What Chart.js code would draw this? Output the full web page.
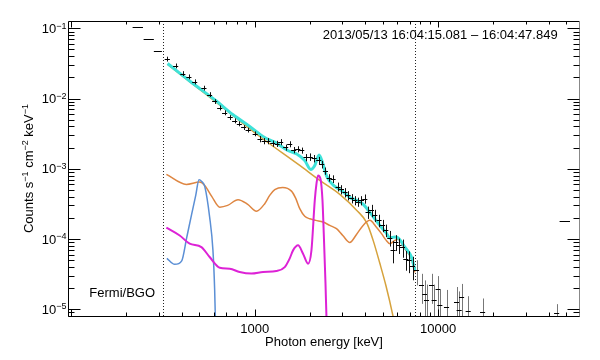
<!DOCTYPE html>
<html><head><meta charset="utf-8">
<script src="https://cdn.jsdelivr.net/npm/chart.js@4"></script>
<style>html,body{margin:0;padding:0;background:#fff}#wrap{width:600px;height:360px}</style>
</head><body><div id="wrap"><canvas id="c" width="600" height="360"></canvas></div>
<script>
// ---- observed spectrum (keV, counts s-1 cm-2 keV-1) ----
const energy = [231,265,297,334,371,406,438,471,529,568,
  605,645,686,735,778,825,871,922,1006,1069,
  1127,1182,1254,1327,1386,1476,1552,1632,1717,1805,
  1905,2009,2112,2235,2320,2431,2550,2674,2848,2972,
  3109,3228,3370,3512,3661,3820,3983,4151,4331,4515,
  4765,4975,5185,5452,5682,5878,6127,6394,6665,6948,
  7250,7623,8117,8462,8644,9204,9510,10000,10215,11110,
  12600,13020,13420,14580,17470,44250,49100];
const energyErr = [15,17,15,11,12,13,14,15,17,18,
  19,21,22,24,25,26,28,30,32,34,
  36,38,40,42,44,47,50,52,55,58,
  61,64,68,72,74,78,82,86,91,95,
  99,103,108,112,117,122,127,133,139,144,
  152,159,166,174,182,188,196,205,213,222,
  232,244,260,271,277,295,304,320,327,356,
  403,417,429,467,559,1416,3200];
const counts = [0.1057,0.0698,0.0482,0.0365,0.0292,0.0227,0.0204,0.0173,0.0141,0.0114,
  0.00907,0.00737,0.00628,0.00537,0.00482,0.00437,0.00387,0.00356,0.00315,0.00265,
  0.00248,0.00248,0.00229,0.00227,0.0024,0.00201,0.00224,0.00185,0.0019,0.00182,
  0.001448,0.001472,0.0014,0.001312,0.001151,0.00093,0.000745,0.000716,0.000555,0.000507,
  0.00046,0.000417,0.000378,0.000354,0.000337,0.000354,0.000374,0.000241,0.000255,0.000217,
  0.000184,0.000156,0.000133,0.000104,0.000069,0.0000903,0.0000811,0.000076,0.0000513,0.0000496,
  0.0000408,0.0000358,0.0000219,0.0000167,0.0000134,0.0000219,0.0000134,0.0000196,0.0000114,0.0000108,
  0.0000127,0.0000099,0.0000149,0.0000093,0.0000092,0.0000088,0.00018];
const countsErr = [0,0,0,0.0029,0.0023,0.0018,0.0016,0.0014,0.0011,0.0009,
  0.0007,0.0006,0.0005,0.00043,0.00039,0.00035,0.00031,0.00028,0.00025,0.00027,
  0.00025,0.00025,0.00023,0.00023,0.00024,0.0002,0.00022,0.00019,0.00019,0.00018,
  0.00017,0.00018,0.00017,0.00016,0.00014,0.00011,0.00009,0.00009,0.00008,0.000076,
  0.00007,0.000063,0.000057,0.000053,0.00005,0.000053,0.000056,0.000048,0.000051,0.000043,
  0.000037,0.000031,0.000027,0.000026,0.000024,0.000023,0.00002,0.000022,0.000016,0.000017,
  0.000015,0.000014,0.00001,0.000009,0.000009,0.00001,0.000009,0.00001,0.000008,0.000008,
  0.000008,0.000008,0.000008,0.000006,0.000005,0.000003,0];

// ---- model components ----
const totalE = [335,442,618,759,939,1134,1286,1514,1695,1874,2021,2125,2243,2350,2470,2732,3021,3299,3602,3884,4241,4808,5185,5452,5807,6050,6580,7160,7463];
const totalC = [0.0315,0.01774,0.00921,0.00592,0.0040,0.00279,0.00239,0.00182,0.001624,0.001312,0.000977,0.001114,0.00157,0.00119,0.000777,0.00056,0.000475,0.00039,0.000354,0.000316,0.000239,0.000156,0.000124,0.0001036,0.000107,0.0001036,0.0000767,0.0000547,0.000036];
const powerE = [335,618,1065,1760,2263,2909,3602,4069,4421,4808,5185,5662,5878];
const powerC = [0.0305,0.00877,0.00288,0.001114,0.000682,0.000431,0.000255,0.000172,0.0000955,0.000045,0.0000219,0.00000819,0.000005];
const contE = [330,424,501,534,583,645,712,811,916,1022,1134,1207,1286,1421,1586,1674,1760,1874,1995,2151,2358,2566,2791,3021,3299,3587,3897,4241,4572,4912,5185,5452,5807,6050,6580,7160,7463];
const contC = [0.00083,0.000598,0.000645,0.000579,0.000404,0.000284,0.000301,0.000362,0.000311,0.000249,0.000318,0.000417,0.000503,0.000542,0.00048,0.000378,0.00027,0.00021,0.000194,0.000184,0.000174,0.000156,0.00014,0.000112,0.0000894,0.000116,0.000156,0.000184,0.000151,0.000119,0.0000971,0.0000857,0.0000955,0.0000987,0.0000723,0.0000513,0.0000335];
const line1E = [332,366,400,426,453,477,497,514,534,568,592,605,610,615];
const line1C = [0.000053,0.0000435,0.0000488,0.000105,0.000224,0.000417,0.000697,0.00066,0.00056,0.000205,0.0000688,0.0000186,0.0000079,0.000005];
const line2E = [330,390,442,512,568,645,731,828,959,1110,1313,1458,1552,1618,1723,1834,1953,2038,2125,2171,2214,2282,2341,2379,2431,2461,2486];
const line2C = [0.000145,0.000112,0.0000857,0.0000767,0.0000553,0.000039,0.0000378,0.0000338,0.0000321,0.0000338,0.000035,0.0000398,0.000053,0.0000688,0.0000811,0.0000618,0.0000445,0.0000688,0.000354,0.000612,0.000803,0.00072,0.000354,0.00012,0.0000234,0.0000077,0.0000043];

const fitRange = [316, 7460];
const xRange = [96, 59300];
const yRange = [8e-6, 0.127];
const yTickValues = [1e-1,1e-2,1e-3,1e-4,1e-5];
const yTickExponents = ['\u22121','\u22122','\u22123','\u22124','\u22125'];
const xTickValues = [1000, 10000];
const xTickLabels = ['1000', '10000'];
const titleText = '2013/05/13 16:04:15.081 \u2013 16:04:47.849';
const instrumentText = 'Fermi/BGO';
const xTitle = 'Photon energy [keV]';
const yTitleParts = [['Counts s',0],['\u22121',1],[' cm',0],['\u22122',1],[' keV',0],['\u22121',1]];

const FONT = '"Liberation Sans", Arial, Helvetica, sans-serif';
const pts = (xs, ys) => xs.map((x, i) => ({x, y: ys[i]}));

const decor = {
  id: 'decor',
  beforeDatasetsDraw(chart) {
    const {ctx, chartArea: a, scales: {x}} = chart;
    ctx.save();
    ctx.strokeStyle = '#222'; ctx.lineWidth = 1; ctx.setLineDash([1, 2]);
    fitRange.forEach(v => {
      const px = Math.round(x.getPixelForValue(v)) + 0.5;
      ctx.beginPath(); ctx.moveTo(px, a.top); ctx.lineTo(px, a.bottom); ctx.stroke();
    });
    ctx.restore();
  },
  afterDatasetsDraw(chart) {
    const {ctx, chartArea: a, scales: {x, y}} = chart;
    ctx.save();
    ctx.beginPath(); ctx.rect(a.left, a.top, a.right - a.left, a.bottom - a.top); ctx.clip();
    ctx.lineWidth = 1;
    energy.forEach((e, i) => {
      const px = Math.round(x.getPixelForValue(e)) + 0.5;
      const py = Math.round(y.getPixelForValue(counts[i])) + 0.5;
      const x0 = x.getPixelForValue(e - energyErr[i]);
      const x1 = x.getPixelForValue(e + energyErr[i]);
      if (countsErr[i] > 0) {
        const lo = counts[i] - countsErr[i];
        const y0 = lo > 0 ? y.getPixelForValue(lo) : a.bottom + 5;
        const y1 = y.getPixelForValue(counts[i] + countsErr[i]);
        ctx.strokeStyle = e > fitRange[1] ? '#777' : '#111';
        ctx.beginPath(); ctx.moveTo(px, y1); ctx.lineTo(px, y0); ctx.stroke();
      }
      ctx.strokeStyle = '#000';
      ctx.beginPath(); ctx.moveTo(x0, py); ctx.lineTo(x1, py); ctx.stroke();
    });
    ctx.restore();
  },
  afterDraw(chart) {
    const {ctx, chartArea: a, scales: {x, y}} = chart;
    ctx.save();
    ctx.lineWidth = 1;
    const L = a.left + 0.5, R = a.right - 0.5, T = a.top + 0.5, B = a.bottom + 0.5;
    ctx.strokeStyle = '#000';
    ctx.beginPath(); ctx.moveTo(R, T); ctx.lineTo(L, T); ctx.lineTo(L, B); ctx.lineTo(R, B); ctx.stroke();
    ctx.strokeStyle = '#888';
    ctx.beginPath(); ctx.moveTo(R, T); ctx.lineTo(R, B); ctx.stroke();
    ctx.strokeStyle = '#000';
    // y ticks
    for (let d = -6; d <= 0; d++) for (let m = 1; m <= 9; m++) {
      const v = m * Math.pow(10, d);
      if (v < yRange[0] || v > yRange[1]) continue;
      const py = Math.round(y.getPixelForValue(v)) + 0.5;
      const len = m === 1 ? 12 : 6;
      ctx.beginPath(); ctx.moveTo(L, py); ctx.lineTo(L + len, py);
      ctx.moveTo(R, py); ctx.lineTo(R - len, py); ctx.stroke();
    }
    // x ticks
    for (let d = 1; d <= 4; d++) for (let m = 1; m <= 9; m++) {
      const v = m * Math.pow(10, d);
      if (v < xRange[0] || v > xRange[1]) continue;
      const px = Math.round(x.getPixelForValue(v)) + 0.5;
      const lb = m === 1 ? 7 : 4, lt = m === 1 ? 6 : 3;
      ctx.beginPath(); ctx.moveTo(px, B); ctx.lineTo(px, B - lb);
      ctx.moveTo(px, T); ctx.lineTo(px, T + lt); ctx.stroke();
    }
    ctx.fillStyle = '#000';
    // y tick labels
    yTickValues.forEach((v, i) => {
      const py = y.getPixelForValue(v);
      ctx.font = '9px ' + FONT;
      const ew = ctx.measureText(yTickExponents[i]).width;
      ctx.font = '13px ' + FONT;
      const bw = ctx.measureText('10').width;
      const xr = a.left - 1.5;
      ctx.textAlign = 'left'; ctx.textBaseline = 'alphabetic';
      ctx.fillText('10', xr - ew - bw, py + 4.7);
      ctx.font = '9px ' + FONT;
      ctx.fillText(yTickExponents[i], xr - ew, py + 0.3);
    });
    // x tick labels
    ctx.font = '13px ' + FONT; ctx.textAlign = 'center';
    xTickValues.forEach((v, i) => ctx.fillText(xTickLabels[i], x.getPixelForValue(v), 333));
    ctx.fillText(xTitle, (a.left + a.right) / 2, 346);
    // y title
    ctx.save();
    ctx.translate(33, (a.top + a.bottom) / 2);
    ctx.rotate(-Math.PI / 2);
    let tw = 0;
    yTitleParts.forEach(([s, sup]) => { ctx.font = (sup ? '9px ' : '13px ') + FONT; tw += ctx.measureText(s).width; });
    let cx = -tw / 2;
    ctx.textAlign = 'left';
    yTitleParts.forEach(([s, sup]) => {
      ctx.font = (sup ? '9px ' : '13px ') + FONT;
      ctx.fillText(s, cx, sup ? -4.7 : 0);
      cx += ctx.measureText(s).width;
    });
    ctx.restore();
    // annotations
    ctx.font = '13px ' + FONT; ctx.textAlign = 'left';
    ctx.fillText(titleText, 322.7, 38.5);
    ctx.fillText(instrumentText, 89.3, 297);
    ctx.restore();
  }
};

const lineDs = (label, xs, ys, color, width, order) => ({
  label, data: pts(xs, ys), borderColor: color, borderWidth: width, order,
  showLine: true, pointRadius: 0, fill: false, cubicInterpolationMode: 'monotone'
});

new Chart(document.getElementById('c'), {
  type: 'scatter',
  data: {
    datasets: [
      lineDs('total', totalE, totalC, '#3ee2d9', 3, 0),
      lineDs('line 2', line2E, line2C, '#dd22d6', 2, 1),
      lineDs('line 1', line1E, line1C, '#5b8fd5', 1.5, 2),
      lineDs('continuum', contE, contC, '#de8642', 1.5, 3),
      lineDs('power law', powerE, powerC, '#d6a23c', 1.5, 4)
    ]
  },
  options: {
    responsive: false, animation: false, devicePixelRatio: 1,
    layout: {padding: {top: 21, right: 20, left: 0, bottom: 0}},
    plugins: {legend: {display: false}, tooltip: {enabled: false}},
    scales: {
      x: {type: 'logarithmic', min: xRange[0], max: xRange[1],
          ticks: {display: false}, grid: {display: false}, border: {display: false},
          afterFit(s) { s.height = 44; }},
      y: {type: 'logarithmic', min: yRange[0], max: yRange[1],
          ticks: {display: false}, grid: {display: false}, border: {display: false},
          afterFit(s) { s.width = 68; }}
    }
  },
  plugins: [decor]
});
</script>
</body></html>
